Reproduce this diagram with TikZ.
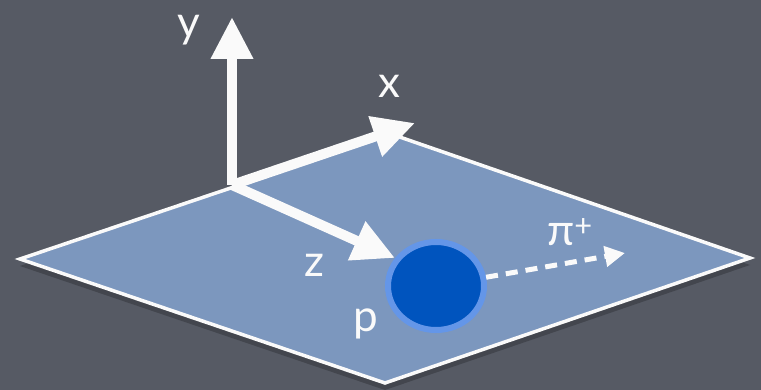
\documentclass[tikz,border=0pt]{standalone}
\usepackage{fontspec}
\setmainfont{Lato}
\usetikzlibrary{arrows.meta,shapes.geometric}
\definecolor{board}{RGB}{86,90,100}
\definecolor{plane}{RGB}{124,151,190}
\definecolor{ball}{RGB}{0,84,190}
\definecolor{ballrim}{RGB}{100,150,232}
\definecolor{chalk}{RGB}{250,250,250}

\begin{document}
\begin{tikzpicture}[x=1pt, y=-1pt,
  axis/.style={-{Triangle[length=42pt,width=40pt]}, line width=10pt, chalk},
  track/.style={-{Triangle[length=20pt,width=20pt]}, line width=5pt, chalk,
                dash pattern=on 12pt off 8pt},
  lab/.style={text=chalk, font=\fontsize{44}{44}\selectfont, inner sep=0pt},
  target/.style={ellipse, fill=ball, draw=ballrim, line width=6pt,
                 minimum width=96pt, minimum height=88pt}
]
\fill[board] (0,0) rectangle (761,390);
\useasboundingbox (0,0) rectangle (761,390);
\coordinate (w) at (20,259);
\coordinate (n) at (391,134);
\coordinate (e) at (750,258);
\coordinate (s) at (385,383);
\fill[black, opacity=.22] ([shift={(0,7)}]w) -- ([shift={(0,7)}]n)
  -- ([shift={(0,7)}]e) -- ([shift={(0,7)}]s) -- cycle;
\filldraw[fill=plane, draw=chalk, line width=3.5pt] (w) -- (n) -- (e) -- (s) -- cycle;
\coordinate (o) at (232,185);
\coordinate (ytip) at (232,17);
\coordinate (xtip) at (415,123);
\coordinate (ztip) at (395,258);
\draw[axis] (o) -- (ytip);
\draw[axis] (o) -- (xtip);
\draw[axis] (o) -- (ztip);
\node[target] (proton) at (436,286) {};
\coordinate (pitip) at (625,253);
\draw[track] (proton) -- (pitip);
\node[lab] (ylab) at (189,30) {y};
\node[lab] (xlab) at (389,86) {x};
\node[lab] (zlab) at (314,265) {z};
\node[lab] (plab) at (366,324) {p};
\node[lab] (pilab) at (570,232) {π\textsuperscript{+}};
\end{tikzpicture}
\end{document}
